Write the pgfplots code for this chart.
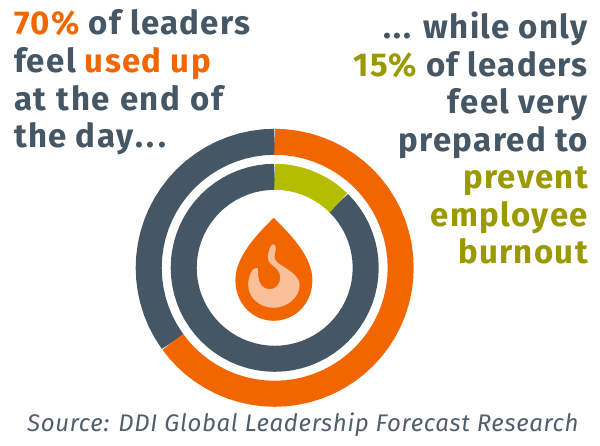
\documentclass[border=0pt]{standalone}
\usepackage{pgfplots}
\pgfplotsset{compat=1.18}
\usepackage{fontspec}
\setmainfont{Fira Sans}
\newfontfamily\headf[LetterSpace=4]{Fira Sans}
\newfontfamily\srcf[LetterSpace=2.8]{Fira Sans}
\newcommand{\dotsx}{.\kern2pt.\kern2pt.}
\definecolor{slate}{HTML}{455665}
\definecolor{burn}{HTML}{F26600}
\definecolor{lime}{HTML}{B5BD00}
\definecolor{olive}{HTML}{9A9A00}
\definecolor{pale}{HTML}{F9BF98}
\definecolor{srcg}{HTML}{4F5F6E}
\begin{document}
\begin{tikzpicture}[x=1pt,y=1pt]
\path[use as bounding box] (0,0) rectangle (600,446);
\begin{axis}[
  scale only axis, width=600pt, height=446pt, at={(0,0)}, anchor=south west,
  hide axis, clip=false,
  xmin=-274.7, xmax=325.3, ymin=-178.2, ymax=267.8,
]
% outer ring: 35% slate, 65% orange (angle, radius)
\addplot[data cs=polar, draw=slate, line width=26pt, no markers, line join=round] coordinates {
(90,126)(95,126)(100,126)(105,126)(110,126)(115,126)(120,126)(125,126)(130,126)(135,126)(140,126)(145,126)(150,126)(155,126)(160,126)(165,126)(170,126)(175,126)(180,126)(185,126)(190,126)(195,126)(200,126)(205,126)(210,126)(216,126)};
\addplot[data cs=polar, draw=burn, line width=26pt, no markers, line join=round] coordinates {
(216,126)(220,126)(225,126)(230,126)(235,126)(240,126)(245,126)(250,126)(255,126)(260,126)(265,126)(270,126)(275,126)(280,126)(285,126)(290,126)(295,126)(300,126)(305,126)(310,126)(315,126)(320,126)(325,126)(330,126)(335,126)(340,126)(345,126)(350,126)(355,126)(360,126)(365,126)(370,126)(375,126)(380,126)(385,126)(390,126)(395,126)(400,126)(405,126)(410,126)(415,126)(420,126)(425,126)(430,126)(435,126)(440,126)(445,126)(450,126)};
% inner ring: 12.4% lime, 87.6% slate
\addplot[data cs=polar, draw=slate, line width=26pt, no markers, line join=round] coordinates {
(90,91)(95,91)(100,91)(105,91)(110,91)(115,91)(120,91)(125,91)(130,91)(135,91)(140,91)(145,91)(150,91)(155,91)(160,91)(165,91)(170,91)(175,91)(180,91)(185,91)(190,91)(195,91)(200,91)(205,91)(210,91)(215,91)(220,91)(225,91)(230,91)(235,91)(240,91)(245,91)(250,91)(255,91)(260,91)(265,91)(270,91)(275,91)(280,91)(285,91)(290,91)(295,91)(300,91)(305,91)(310,91)(315,91)(320,91)(325,91)(330,91)(335,91)(340,91)(345,91)(350,91)(355,91)(360,91)(365,91)(370,91)(375,91)(380,91)(385,91)(390,91)(395,91)(400,91)(405.5,91)};
\addplot[data cs=polar, draw=lime, line width=26pt, no markers, line join=round] coordinates {
(45.5,91)(50,91)(55,91)(60,91)(65,91)(70,91)(75,91)(80,91)(85,91)(90,91)};
% flame icon
\fill[burn] (axis cs:-1,50) .. controls (axis cs:-16,35) and (axis cs:-39.3,12) .. (axis cs:-39.3,-12.3)
  .. controls (axis cs:-39.3,-36) and (axis cs:-22,-53) .. (axis cs:-1,-53)
  .. controls (axis cs:20,-53) and (axis cs:37.7,-36) .. (axis cs:37.7,-12.3)
  .. controls (axis cs:37.7,12) and (axis cs:14,35) .. (axis cs:-1,50) -- cycle;
\fill[pale] (axis cs:-1.5,23.5) .. controls (axis cs:1,23.5) and (axis cs:1.5,21) .. (axis cs:1,18)
  .. controls (axis cs:0,12) and (axis cs:-2,10) .. (axis cs:3,5)
  .. controls (axis cs:10,0) and (axis cs:25,-7) .. (axis cs:25,-17)
  .. controls (axis cs:25,-30) and (axis cs:12,-40) .. (axis cs:-1,-40)
  .. controls (axis cs:-15,-40) and (axis cs:-26.5,-30) .. (axis cs:-26.5,-17)
  .. controls (axis cs:-26.5,-8) and (axis cs:-22,0) .. (axis cs:-18.5,0)
  .. controls (axis cs:-16,0) and (axis cs:-16.5,-3) .. (axis cs:-16.5,-8)
  .. controls (axis cs:-16.5,-15) and (axis cs:-12,-21.5) .. (axis cs:-5,-21.5)
  .. controls (axis cs:2,-21.5) and (axis cs:5.5,-15) .. (axis cs:5.5,-10)
  .. controls (axis cs:5.5,-3) and (axis cs:2,-1) .. (axis cs:-4,4)
  .. controls (axis cs:-8,7) and (axis cs:-7,14) .. (axis cs:-6,16)
  .. controls (axis cs:-5,20) and (axis cs:-3.5,23.5) .. (axis cs:-1.5,23.5) -- cycle;
\end{axis}
\begin{scope}[every node/.style={inner sep=0pt, font=\headf\fontsize{33}{37}\selectfont\bfseries}]
\node[anchor=base west] at (14,411) {\textcolor{burn}{70\%} \textcolor{slate}{of leaders}};
\node[anchor=base west] at (14,373) {\textcolor{slate}{feel} \textcolor{burn}{used up}};
\node[anchor=base west,text=slate] at (14,335) {at\kern1.5pt{} the\kern1.5pt{} end\kern1.5pt{} of};
\node[anchor=base west,text=slate] at (14,298) {the day\kern2pt.\kern4pt.\kern4pt.};
\node[anchor=base east,text=slate] at (588,407) {\dotsx{} while only};
\node[anchor=base east] at (588,369.3) {\textcolor{olive}{15\%} \textcolor{slate}{of leaders}};
\node[anchor=base east,text=slate] at (588,332) {feel very};
\node[anchor=base east,text=slate] at (588,294.3) {prepared to};
\node[anchor=base east,text=olive] at (588,257) {prevent};
\node[anchor=base east,text=olive] at (588,219.3) {employee};
\node[anchor=base east,text=olive] at (588,182) {burnout};
\end{scope}
\node[anchor=base west,inner sep=0pt,text=srcg,font=\srcf\fontsize{24}{27}\selectfont\itshape] at (27,14) {Source: DDI Global Leadership Forecast Research};
\end{tikzpicture}
\end{document}
